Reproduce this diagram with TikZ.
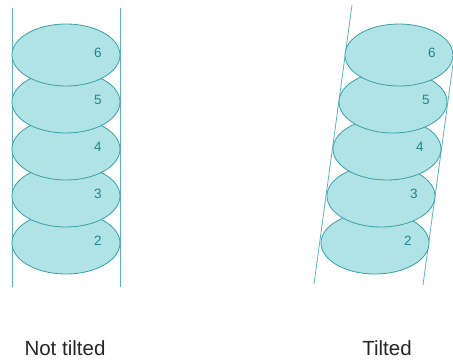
\documentclass[tikz,border=0pt]{standalone}
\usepackage{fontspec}
\setmainfont{Liberation Sans}
\usetikzlibrary{shapes.geometric,calc}
\definecolor{discfill}{HTML}{B0E3E6}
\definecolor{discline}{HTML}{3A9FA6}
\definecolor{guide}{HTML}{5DB3B9}
\definecolor{numtext}{HTML}{1F868C}
\tikzset{
  disc/.style={ellipse, draw=discline, fill=discfill, line width=0.8pt,
    minimum width=108pt, minimum height=62pt, inner sep=0pt},
  num/.style={text=numtext, font=\fontsize{13.5}{15}\selectfont},
  guideline/.style={draw=guide, line width=0.8pt},
  caption/.style={font=\fontsize{20.5}{24}\selectfont, text=black!85, anchor=base}
}
\begin{document}
\begin{tikzpicture}[x=1pt, y=-1pt]
  \useasboundingbox (0,0) rectangle (453,360);
  \clip (0,0) rectangle (453,360);
  % upright stack
  \draw[guideline] (12,8) -- (12,287);
  \draw[guideline] (120,8) -- (120,287);
  \foreach \n [evaluate=\n as \yy using 243-47*(\n-2)] in {2,...,6} {
    \node[disc] (s\n) at (66,\yy) {};
    \node[num] (sl\n) at ($(s\n.center)+(32,-2)$) {\n};
  }
  % leaning stack
  \draw[guideline] (352,5) -- (314,284);
  \draw[guideline] (461,5) -- (423,285);
  \foreach \n [evaluate=\n as \yy using 243-47*(\n-2),
               evaluate=\n as \xx using 375+6*(\n-2)] in {2,...,6} {
    \node[disc] (t\n) at (\xx,\yy) {};
    \node[num] (tl\n) at ($(t\n.center)+(33,-2)$) {\n};
  }
  \node[caption] (capa) at (65,355) {Not tilted};
  \node[caption] (capb) at (387,355) {Tilted};
\end{tikzpicture}
\end{document}
